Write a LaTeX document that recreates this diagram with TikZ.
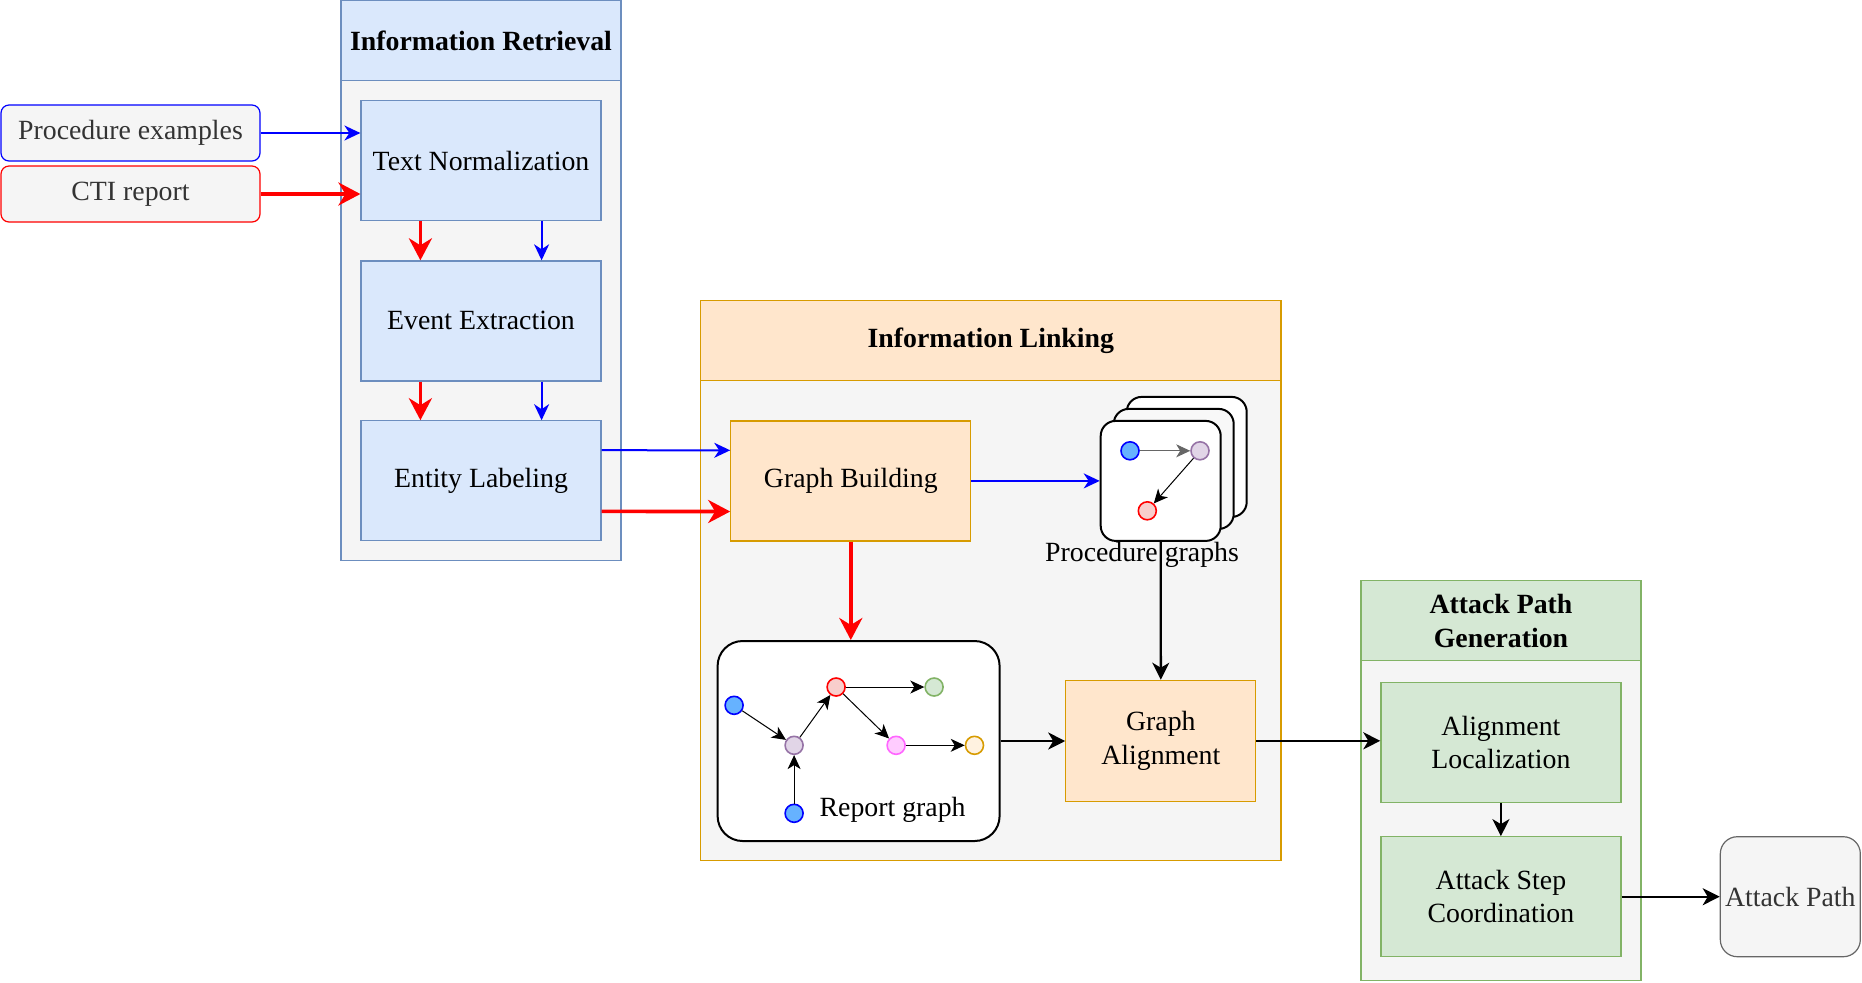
\documentclass[tikz,border=0pt]{standalone}
\usepackage{fontspec}
\setmainfont{Liberation Serif}
\usepackage{tikz}
\usetikzlibrary{arrows.meta}
\definecolor{irfill}{HTML}{DAE8FC}
\definecolor{irline}{HTML}{6C8EBF}
\definecolor{ilfill}{HTML}{FFE6CC}
\definecolor{illine}{HTML}{D79B00}
\definecolor{apfill}{HTML}{D5E8D4}
\definecolor{apline}{HTML}{82B366}
\definecolor{lanefill}{HTML}{F5F5F5}
\definecolor{darktext}{HTML}{333333}
\definecolor{dotblue}{HTML}{66B2FF}
\definecolor{dotpurple}{HTML}{E1D5E7}
\definecolor{dotpurpleline}{HTML}{9673A6}
\definecolor{dotred}{HTML}{F8CECC}
\definecolor{dotpink}{HTML}{FFCCFF}
\definecolor{dotpinkline}{HTML}{FF66FF}
\definecolor{dotorange}{HTML}{FFF2E0}

\begin{document}
\begin{tikzpicture}[x=0.5pt,y=-0.5pt,
  every node/.style={font=\fontsize{13.9}{16.7}\selectfont},
  lane/.style={draw,line width=0.6pt,fill=lanefill,inner sep=0pt},
  head/.style={draw,line width=0.6pt,font=\fontsize{13.9}{16.7}\selectfont\bfseries,align=center,inner sep=0pt,minimum height=40pt},
  box/.style={draw,line width=0.6pt,minimum width=120pt,minimum height=60pt,align=center},
  inbox/.style={draw,rounded corners=4pt,line width=0.6pt,fill=lanefill,text=darktext,minimum width=129.5pt,minimum height=28pt},
  card/.style={draw,rounded corners=7.5pt,line width=1pt,fill=white,minimum size=60pt,inner sep=0pt},
  dot/.style={circle,draw,line width=0.8pt,minimum size=9pt,inner sep=0pt},
  blueline/.style={draw=blue,line width=1pt,-{Stealth[length=8pt,width=7.5pt,inset=2.5pt]}},
  redline/.style={draw=red,line width=1.8pt,-{Stealth[length=11pt,width=11.5pt,inset=3.5pt]}},
  blackline/.style={draw=black,line width=1.2pt,-{Stealth[length=8.5pt,width=8.5pt,inset=2.5pt]}},
  gedge/.style={line width=0.5pt,-{Stealth[length=7pt,width=6.5pt,inset=2pt]}}]
\useasboundingbox (0,0) rectangle (1862,982);

% Information Retrieval
\node [lane,draw=irline,minimum width=140pt,minimum height=279.75pt] (ir) at (481,280.75) {};
\node [head,draw=irline,fill=irfill,minimum width=140pt] (irhead) at (481,40.8) {Information Retrieval};
\node [box,draw=irline,fill=irfill] (norm) at (481,160.8) {Text Normalization};
\node [box,draw=irline,fill=irfill] (event) at (481,320.9) {Event Extraction};
\node [box,draw=irline,fill=irfill] (entity) at (481,480.8) {Entity Labeling};

\node [inbox,draw=blue] (proc) at (130.5,133) {Procedure examples};
\node [inbox,draw=red] (cti) at (130.5,194) {CTI report};

\draw [blueline] (proc.east) -- (proc.east -| norm.west);
\draw [redline] (cti.east) -- (cti.east -| norm.west);
\draw [redline] ([xshift=30pt]norm.south west) -- ([xshift=30pt]event.north west);
\draw [blueline] ([xshift=-30pt]norm.south east) -- ([xshift=-30pt]event.north east);
\draw [redline] ([xshift=30pt]event.south west) -- ([xshift=30pt]entity.north west);
\draw [blueline] ([xshift=-30pt]event.south east) -- ([xshift=-30pt]entity.north east);

% Information Linking
\node [lane,draw=illine,minimum width=290.2pt,minimum height=279.85pt] (il) at (990.8,580.95) {};
\node [head,draw=illine,fill=ilfill,minimum width=290.2pt] (ilhead) at (990.8,340.85) {Information Linking};
\node [box,draw=illine,fill=ilfill] (build) at (850.8,480.9) {Graph Building};
\node [box,draw=illine,fill=ilfill,minimum width=95pt,minimum height=60.5pt] (align) at (1160.8,740.8) {Graph\\Alignment};

\draw [blueline] ([yshift=-15pt]entity.north east) -- ([yshift=-15pt]build.north west);
\draw [redline] ([yshift=15pt]entity.south east) -- ([yshift=15pt]build.south west);

% procedure graphs
\node [card] (back) at (1186.7,456.9) {};
\node [card,fill=lanefill!70!white] (mid) at (1173.7,468.9) {};
\node [card] (front) at (1160.7,480.9) {};
\node [dot,draw=blue,fill=dotblue] (pb) at (1130,450.8) {};
\node [dot,draw=dotpurpleline,fill=dotpurple] (pp) at (1200,450.8) {};
\node [dot,draw=red,fill=dotred] (pr) at (1147.3,510.8) {};
\draw [gedge,draw=black!60] (pb) -- (pp);
\draw [gedge] (pp) -- (pr);
\node (proclabel) at (1142,555) {Procedure graphs};

\draw [blueline] (build.east) -- (front.west);
\draw [blackline] (front.south) -- (align.north);

% report graph
\node [draw,rounded corners=12.5pt,line width=1pt,fill=white,minimum width=141pt,minimum height=100pt] (report) at (858.6,741) {};
\node [dot,draw=blue,fill=dotblue] (r1) at (734.1,705.3) {};
\node [dot,draw=dotpurpleline,fill=dotpurple] (r2) at (794.1,745.3) {};
\node [dot,draw=red,fill=dotred] (r3) at (836.1,687) {};
\node [dot,draw=apline,fill=apfill] (r4) at (934.1,687) {};
\node [dot,draw=dotpinkline,fill=dotpink] (r5) at (896.1,745.3) {};
\node [dot,draw=illine,fill=dotorange] (r6) at (974.5,745.3) {};
\node [dot,draw=blue,fill=dotblue] (r7) at (794.1,813.3) {};
\draw [gedge] (r1) -- (r2);
\draw [gedge] (r7) -- (r2);
\draw [gedge] (r2) -- (r3);
\draw [gedge] (r3) -- (r4);
\draw [gedge] (r3) -- (r5);
\draw [gedge] (r5) -- (r6);
\node (replabel) at (892.6,810) {Report graph};

\draw [redline] (build.south) -- (build.south |- report.north);
\draw [blackline] (report.east) -- (report.east -| align.west);

% Attack Path Generation
\node [lane,draw=apline,minimum width=140pt,minimum height=199.85pt] (apg) at (1501,780.85) {};
\node [head,draw=apline,fill=apfill,minimum width=140pt] (apghead) at (1501,620.85) {Attack Path\\Generation};
\node [box,draw=apline,fill=apfill] (local) at (1500.9,742.2) {Alignment\\Localization};
\node [box,draw=apline,fill=apfill] (coord) at (1500.9,896.7) {Attack Step\\Coordination};
\node [draw=black!60,rounded corners=8.5pt,line width=0.6pt,fill=lanefill,text=darktext,minimum width=70pt,minimum height=60pt,inner sep=1pt] (path) at (1790.3,896.7) {Attack Path};

\draw [blackline] (align.east) -- (align.east -| local.west);
\draw [blackline] (local.south) -- (coord.north);
\draw [blackline] (coord.east) -- (path.west);
\end{tikzpicture}
\end{document}
